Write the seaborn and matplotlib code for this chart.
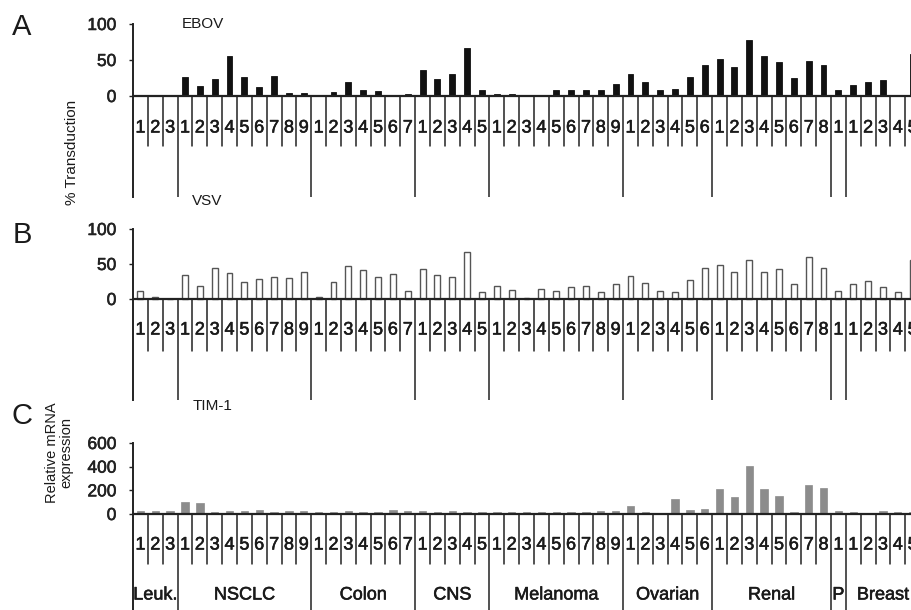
import matplotlib
matplotlib.use("Agg")
import matplotlib.pyplot as plt
import matplotlib.patheffects as pe
import seaborn as sns
import pandas as pd
import numpy as np

# ---------------- data ----------------
groups = ["Leuk.", "NSCLC", "Colon", "CNS", "Melanoma", "Ovarian", "Renal", "P", "Breast"]
group_sizes = [3, 9, 7, 5, 9, 6, 8, 1, 5]

ebov = [0, 0, 0,
        26, 14, 24, 55, 26, 13, 28, 4, 4,
        0, 5, 19, 9, 7, 2, 3,
        36, 24, 30, 67, 9,
        3, 3, 2, 1, 8, 8, 9, 9, 16,
        30, 20, 9, 10, 27, 43,
        51, 40, 78, 56, 47, 25, 48, 43,
        8,
        15, 20, 22, 1, 59]

vsv = [11, 3, 0,
       35, 18, 44, 37, 24, 29, 31, 30, 38,
       3, 24, 47, 42, 31, 36, 12,
       43, 34, 32, 67, 10,
       18, 13, 2, 14, 12, 17, 18, 10, 22,
       33, 23, 12, 10, 27, 44,
       48, 39, 56, 39, 43, 22, 60, 44,
       11,
       22, 26, 17, 10, 56]

tim1 = [28, 25, 23,
        102, 96, 17, 23, 23, 34, 17, 23, 23,
        17, 17, 25, 17, 20, 34, 23,
        23, 17, 23, 17, 14,
        17, 17, 17, 17, 17, 14, 17, 23, 28,
        68, 20, 11, 127, 37, 40,
        211, 144, 403, 211, 152, 17, 242, 220,
        28,
        14, 11, 22, 20, 17]

cell_numbers = [str(i + 1) for s in group_sizes for i in range(s)]
cell_ids = [f"{g}{i + 1}" for g, s in zip(groups, group_sizes) for i in range(s)]

df = pd.DataFrame({"cell": cell_ids, "num": cell_numbers,
                   "EBOV": ebov, "VSV": vsv, "TIM-1": tim1})

# ---------------- style ----------------
sns.set_theme(style="white")
plt.rcParams["font.family"] = ["Liberation Sans", "DejaVu Sans"]

W, H = 912, 610
fig = plt.figure(figsize=(W / 100, H / 100), dpi=100)

LINE = "#222222"
TXT = "#1a1a1a"
heavy = [pe.withStroke(linewidth=0.4, foreground=TXT)]
slot_px = 14.85
x_left_px = 133
xmax = -0.5 + (W - x_left_px) / slot_px

bounds = np.cumsum(group_sizes)


def make_axes(px_top, val_top, px_zero, px_bottom):
    scale = (px_zero - px_top) / val_top
    ymin = -(px_bottom - px_zero) / scale
    ax = fig.add_axes([x_left_px / W, 1 - px_bottom / H,
                       (W - x_left_px) / W, (px_bottom - px_top) / H])
    return ax, scale, ymin


panels = [
    ("EBOV", 24, 100, 96, 197, 146, 128, [0, 50, 100],
     dict(color="#111111", edgecolor="#111111", linewidth=0.6, width=0.4)),
    ("VSV", 229, 100, 299, 400, 351, 330, [0, 50, 100],
     dict(color="white", edgecolor="#555555", linewidth=1.0, width=0.4)),
    ("TIM-1", 443, 600, 514, 614, 564, 545, [0, 200, 400, 600],
     dict(color="#8c8c8c", edgecolor="#8c8c8c", linewidth=0.5, width=0.5)),
]

axes = []
for col, px_top, val_top, px_zero, px_bottom, short_px, num_px, ticks, bk in panels:
    ax, scale, ymin = make_axes(px_top, val_top, px_zero, px_bottom)
    sns.barplot(data=df, x="cell", y=col, order=cell_ids, ax=ax,
                saturation=1, errorbar=None, **bk)
    ax.set_xlim(-0.5, xmax)
    ax.set_ylim(ymin, val_top)
    ax.set_xticks([])
    ax.set_xlabel("")
    ax.set_ylabel("")
    ax.set_yticks(ticks)
    ax.set_yticklabels([str(t) for t in ticks], fontsize=12.5, color=TXT)
    for lab in ax.get_yticklabels():
        lab.set_path_effects(heavy)
    ax.tick_params(axis="y", left=True, length=3, width=1, pad=9, colors=LINE)
    for s in ["top", "right", "bottom"]:
        ax.spines[s].set_visible(False)
    ax.spines["left"].set_bounds(ymin, val_top)
    ax.spines["left"].set_color(LINE)
    ax.spines["left"].set_linewidth(1.4)
    ax.patch.set_alpha(0)

    # zero line
    ax.plot([-0.5, xmax + 1], [0, 0], color=LINE, lw=1.6, clip_on=False, zorder=3)
    short_y = -(short_px - px_zero) / scale
    for k in range(1, len(cell_ids)):
        x = k - 0.5
        y_end = ymin if k in bounds else short_y
        ax.plot([x, x], [0, y_end], color=LINE, lw=1.1, clip_on=True, zorder=3)
    num_y = -(num_px - px_zero) / scale
    for i, n in enumerate(cell_numbers):
        ax.text(i, num_y, n, ha="center", va="center", fontsize=13,
                color=TXT, clip_on=False, path_effects=heavy)
    axes.append((ax, scale, px_zero))

# group labels (panel C)
axC, scaleC, zeroC = axes[2]
grp_y = -(595 - zeroC) / scaleC
start = 0
for g, s in zip(groups, group_sizes):
    center = start + s / 2 - 0.5
    axC.text(center, grp_y, g, ha="center", va="center", fontsize=13,
             color=TXT, path_effects=heavy)
    start += s

# panel titles, letters, y labels (figure pixel coords)
def ftext(x, y, s, **kw):
    fig.text(x / W, 1 - y / H, s, **kw)

ftext(182, 24, "EBOV", ha="left", va="center", fontsize=11, color=TXT)
ftext(192, 201, "VSV", ha="left", va="center", fontsize=11, color=TXT)
ftext(193, 406, "TIM-1", ha="left", va="center", fontsize=11, color=TXT)

ftext(22, 27, "A", ha="center", va="center", fontsize=21, color=TXT)
ftext(22, 235, "B", ha="center", va="center", fontsize=21, color=TXT)
ftext(22, 416, "C", ha="center", va="center", fontsize=21, color=TXT)

ftext(72, 152, "% Transduction", ha="center", va="center", rotation=90,
      fontsize=11, color=TXT)
ftext(59, 453, "Relative mRNA\nexpression", ha="center", va="center",
      rotation=90, fontsize=10.5, linespacing=1.0, color=TXT)

fig.savefig("out.png", dpi=100)
